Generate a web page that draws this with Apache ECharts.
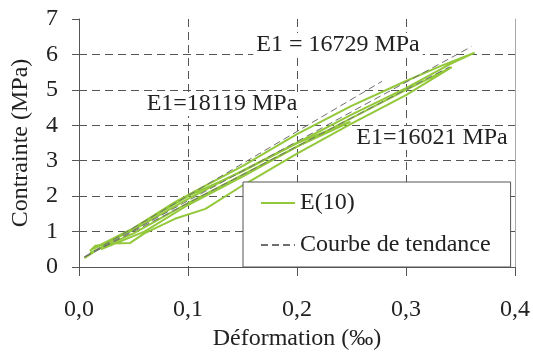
<!DOCTYPE html>
<html>
<head>
<meta charset="utf-8">
<script src="https://cdn.jsdelivr.net/npm/echarts@6/dist/echarts.min.js"></script>
<style>
  html, body { margin: 0; padding: 0; background: #fff; }
  #chart { width: 533px; height: 356px; }
</style>
</head>
<body>
<div id="chart"></div>
<script>
// boucles charge / décharge [déformation ‰, contrainte MPa]
var cycle1 = [[0.005,0.25],[0.02,0.55],[0.05,1.1],[0.088,1.83],[0.116,2.3],[0.15,2.85],[0.2,3.75],[0.25,4.55],[0.3,5.25],[0.33,5.65],[0.363,6.05],
              [0.34,5.72],[0.3,5.05],[0.25,4.3],[0.2,3.5],[0.15,2.7],[0.1,2.0],[0.05,1.1],[0.015,0.55]];
var cycle2 = [[0.01,0.45],[0.015,0.6],[0.03,0.66],[0.047,0.68],[0.06,0.95],[0.088,1.36],[0.116,1.64],[0.15,2.3],[0.2,3.2],[0.25,4.05],[0.3,4.85],[0.342,5.64],
              [0.3,5.0],[0.25,4.2],[0.2,3.4],[0.15,2.55],[0.1,1.75],[0.06,1.0],[0.02,0.5]];
var cycle3 = [[0.01,0.4],[0.05,0.95],[0.1,1.8],[0.15,2.6],[0.2,3.4],[0.249,4.1],
              [0.2,3.5],[0.15,2.72],[0.1,1.92],[0.05,1.05],[0.012,0.5]];
// courbes de tendance (début, fin)
var trend1 = [[0.005,0.28],[0.36,6.22]];   // E1 = 16729 MPa
var trend2 = [[0.005,0.29],[0.278,5.24]];  // E1 = 18119 MPa
var trend3 = [[0.005,0.28],[0.34,5.65]];   // E1 = 16021 MPa
var notes = ['E1 = 16729 MPa', 'E1=18119 MPa', 'E1=16021 MPa'];

var serif = '"Liberation Serif", "Times New Roman", serif';
var green = '#93c83a';

function greenSerie(id, d) {
    return { id: id, name: 'E(10)', type: 'line', data: d, symbol: 'none', showSymbol: false,
             lineStyle: { color: green, width: 2 }, itemStyle: { color: green }, z: 3 };
}
function trendSerie(id, d) {
    return { id: id, name: 'Courbe de tendance', type: 'line', data: d, symbol: 'none', showSymbol: false,
             lineStyle: { color: '#6f6f6f', width: 1, type: [7, 4] }, itemStyle: { color: '#6f6f6f' }, z: 4 };
}
function note(txt, x, y) {
    return { type: 'text', x: x, y: y, z: 10,
             style: { text: txt, align: 'center', verticalAlign: 'middle',
                      font: '24px ' + serif, fill: '#222', backgroundColor: '#fff', padding: [0, 3] } };
}

var myChart = echarts.init(document.getElementById('chart'));
var option = {
    backgroundColor: '#fff',
    animation: false,
    grid: { left: 79, right: 17, top: 19, bottom: 85 },
    xAxis: {
        type: 'value', min: 0, max: 0.4, interval: 0.1,
        name: 'Déformation (‰)', nameLocation: 'middle', nameGap: 60,
        nameTextStyle: { fontFamily: serif, fontSize: 24, color: '#222' },
        axisLine: { lineStyle: { color: '#555', width: 1 } },
        axisTick: { show: true, length: 9, lineStyle: { color: '#555' } },
        axisLabel: { fontFamily: serif, fontSize: 24, color: '#222', margin: 31,
                     formatter: function (v) { return v.toFixed(1).replace('.', ','); } },
        splitLine: { show: true, lineStyle: { color: ['transparent', '#555', '#555', '#555', 'transparent'], type: [8, 5], width: 1 } }
    },
    yAxis: [{
        type: 'value', min: 0, max: 7, interval: 1,
        name: 'Contrainte (MPa)', nameLocation: 'middle', nameGap: 46,
        nameTextStyle: { fontFamily: serif, fontSize: 24, color: '#222' },
        axisLine: { show: true, lineStyle: { color: '#555', width: 1 } },
        axisTick: { show: true, length: 7, lineStyle: { color: '#555' } },
        axisLabel: { fontFamily: serif, fontSize: 24, color: '#222', margin: 21 },
        splitLine: { show: true, lineStyle: { color: ['transparent', '#555', '#555', '#555', '#555', '#555', '#555', 'transparent'], type: [8, 5], width: 1 } }
    }, {
        type: 'value', min: 0, max: 7, interval: 1, position: 'right',
        axisLine: { show: true, lineStyle: { color: '#aaa', width: 1 } },
        axisTick: { show: false }, axisLabel: { show: false }, splitLine: { show: false }
    }],
    legend: {
        data: ['E(10)', 'Courbe de tendance'],
        orient: 'vertical', left: 243, top: 182,
        backgroundColor: '#fff', borderColor: '#555', borderWidth: 1,
        padding: [9, 20, 10, 17], itemGap: 18, itemWidth: 34, itemHeight: 14,
        itemStyle: { opacity: 0 },
        textStyle: { fontFamily: serif, fontSize: 24, color: '#222' }
    },
    graphic: [note(notes[0], 338, 45), note(notes[1], 222, 104), note(notes[2], 432, 138)],
    series: [greenSerie('c1', cycle1), greenSerie('c2', cycle2), greenSerie('c3', cycle3),
             trendSerie('t1', trend1), trendSerie('t2', trend2), trendSerie('t3', trend3)]
};
myChart.setOption(option);
</script>
</body>
</html>
